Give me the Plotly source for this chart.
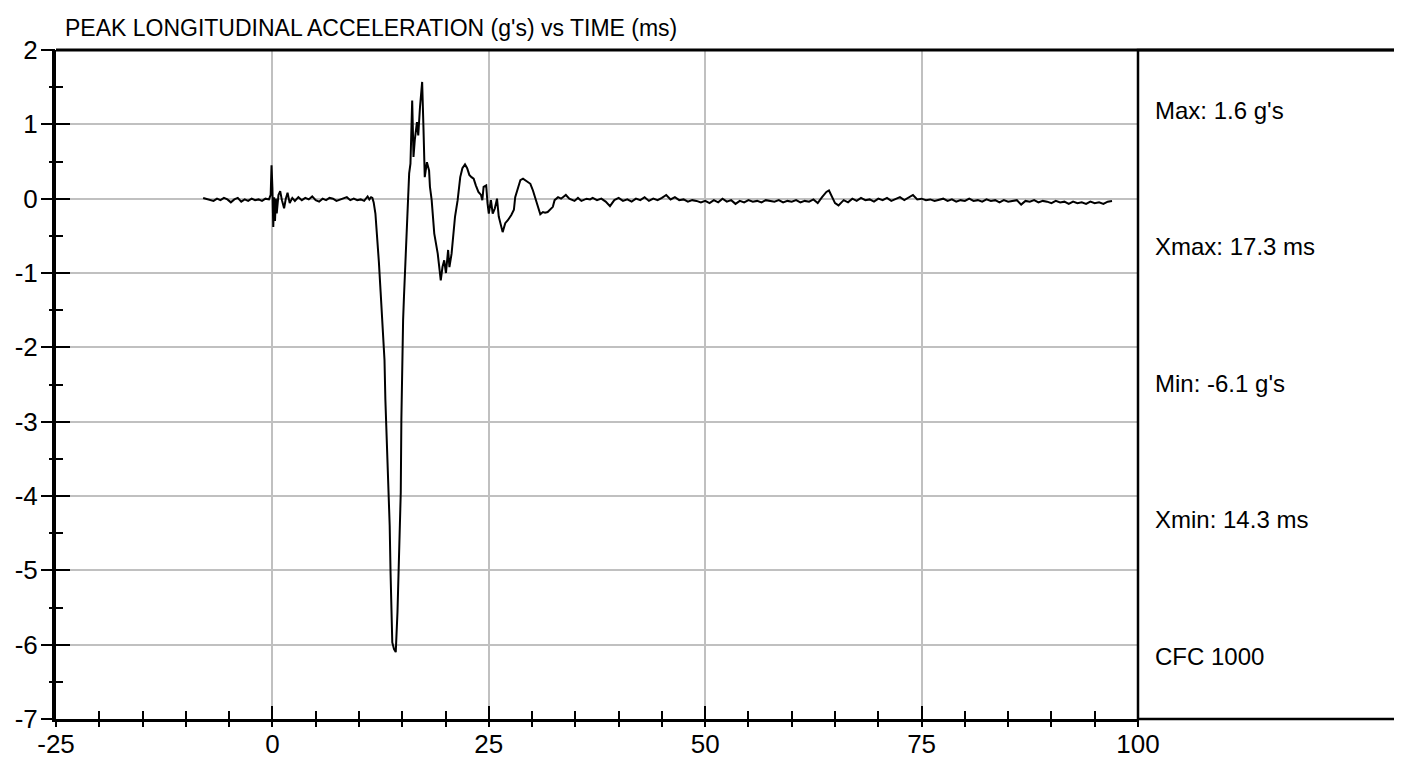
import plotly.graph_objects as go

# ---------------- data ----------------
title_text = "PEAK LONGITUDINAL ACCELERATION (g's) vs TIME (ms)"

x_ticks = [-25, 0, 25, 50, 75, 100]
x_tick_labels = ["-25", "0", "25", "50", "75", "100"]
y_ticks = [-7, -6, -5, -4, -3, -2, -1, 0, 1, 2]
y_tick_labels = ["-7", "-6", "-5", "-4", "-3", "-2", "-1", "0", "1", "2"]

stats_labels = ["Max: 1.6 g's", "Xmax: 17.3 ms", "Min: -6.1 g's", "Xmin: 14.3 ms", "CFC 1000"]

# pre-impact baseline
pre_t = [-8.0, -7.6, -7.2, -6.8, -6.4, -6.0, -5.6, -5.2, -4.8, -4.4, -4.0, -3.6, -3.2, -2.8,
         -2.4, -2.0, -1.6, -1.2, -0.8, -0.4]
pre_g = [0.01, 0.0, -0.01, -0.03, 0.0, -0.02, 0.01, -0.01, -0.05, -0.01, 0.01, -0.04, -0.01, -0.03,
         0.0, -0.02, -0.01, -0.03, 0.0, -0.01]

# trigger spike near t=0
spike_t = [-0.2, -0.1, 0.0, 0.1, 0.2, 0.3, 0.4, 0.5, 0.7, 0.9, 1.1, 1.35, 1.55, 1.75, 2.0, 2.3]
spike_g = [0.05, 0.45, 0.15, -0.38, 0.02, -0.3, 0.0, -0.2, 0.05, 0.1, -0.02, -0.13, 0.0, 0.08, -0.06, 0.01]

# quiet segment before impact
quiet_t = [2.6, 3.0, 3.4, 3.8, 4.2, 4.6, 5.0, 5.4, 5.8, 6.2, 6.6, 7.0, 7.4, 7.8, 8.2, 8.6, 9.0,
           9.4, 9.8, 10.2, 10.6, 11.0, 11.2, 11.4]
quiet_g = [-0.03, 0.02, -0.02, 0.01, -0.01, 0.03, -0.02, -0.04, 0.0, -0.02, 0.01, 0.0, -0.03, -0.01,
           0.01, 0.02, -0.02, 0.0, -0.02, -0.01, -0.03, 0.03, -0.01, 0.02]

# impact pulse
impact_t = [11.55, 11.7, 11.9, 12.1, 12.3, 12.5, 12.7, 12.85, 12.95, 13.05, 13.15, 13.3, 13.4, 13.55,
            13.65, 13.75, 13.85, 14.05, 14.25, 14.45, 14.65, 14.83, 14.9, 15.0, 15.1, 15.2, 15.3,
            15.4, 15.6, 15.8, 15.95, 16.15, 16.3, 16.45, 16.7, 16.85, 17.05, 17.3, 17.45, 17.5, 17.6,
            17.85, 18.1, 18.2, 18.4, 18.7, 19.1, 19.45, 19.65, 19.85, 20.05, 20.3, 20.45, 20.7, 20.85,
            21.1, 21.4, 21.7, 21.95, 22.25, 22.5, 22.75, 23.0, 23.25, 23.5, 23.8, 24.1, 24.25, 24.4,
            24.7, 24.85, 25.0, 25.25, 25.45, 25.7, 25.95, 26.15, 26.3, 26.6, 26.9, 27.2, 27.6, 27.9,
            28.05, 28.35, 28.65, 28.95, 29.2, 29.5, 29.8, 30.1, 30.35, 30.65, 30.95, 31.25, 31.5,
            31.8, 32.1, 32.4, 32.6, 33.0, 33.35, 33.9, 34.3, 34.9, 35.3, 35.7, 36.3, 36.7]
impact_g = [0.01, -0.05, -0.2, -0.48, -0.85, -1.25, -1.63, -1.99, -2.17, -2.7, -3.01, -3.42, -3.78, -4.4,
            -5.03, -5.43, -5.97, -6.06, -6.1, -5.56, -4.49, -3.95, -2.97, -1.99, -1.63, -1.32, -1.0,
            -0.69, -0.06, 0.34, 0.47, 1.32, 0.56, 0.79, 1.03, 0.85, 1.23, 1.57, 0.96, 0.52, 0.29,
            0.49, 0.38, 0.16, -0.02, -0.47, -0.74, -1.1, -0.92, -0.83, -1.0, -0.69, -0.92, -0.74, -0.51,
            -0.24, -0.02, 0.29, 0.41, 0.46, 0.41, 0.32, 0.29, 0.27, 0.18, 0.09, 0.05, -0.02, 0.16,
            0.18, -0.06, -0.2, -0.02, -0.2, -0.13, 0.0, -0.24, -0.31, -0.45, -0.33, -0.29, -0.22, -0.15,
            0.02, 0.14, 0.25, 0.27, 0.25, 0.23, 0.2, 0.11, 0.02, -0.11, -0.21, -0.18, -0.19,
            -0.18, -0.15, -0.11, -0.02, 0.02, 0.0, 0.05, 0.0, -0.03, 0.01, -0.03, 0.0, -0.01]

# post-impact baseline
post_t = [37.0, 37.5, 38.0, 38.5, 39.0, 39.5, 40.0, 40.5, 41.0, 41.5, 42.0, 42.5, 43.0, 43.5, 44.0,
          44.5, 45.0, 45.5, 46.0, 46.5, 47.0, 47.5, 48.0, 48.5, 49.0, 49.5, 50.0, 50.5, 51.0, 51.5,
          52.0, 52.5, 53.0, 53.5, 54.0, 54.5, 55.0, 55.5, 56.0, 56.5, 57.0, 57.5, 58.0, 58.5, 59.0,
          59.5, 60.0, 60.5, 61.0, 61.5, 62.0, 62.5, 63.0, 63.5, 64.0, 64.3, 64.6, 65.0, 65.4, 66.0,
          66.5, 67.0, 67.5, 68.0, 68.5, 69.0, 69.5, 70.0, 70.5, 71.0, 71.5, 72.0, 72.5, 73.0, 73.5,
          74.0, 74.5, 75.0, 75.5, 76.0, 76.5, 77.0, 77.5, 78.0, 78.5, 79.0, 79.5, 80.0, 80.5, 81.0,
          81.5, 82.0, 82.5, 83.0, 83.5, 84.0, 84.5, 85.0, 85.5, 86.0, 86.5, 87.0, 87.5, 88.0, 88.5,
          89.0, 89.5, 90.0, 90.5, 91.0, 91.5, 92.0, 92.5, 93.0, 93.5, 94.0, 94.5, 95.0, 95.5, 96.0,
          96.5, 97.0]
post_g = [0.01, -0.02, 0.0, -0.04, -0.1, -0.02, 0.01, -0.03, -0.01, -0.04, 0.0, -0.02, 0.02, -0.03, 0.0,
          -0.02, 0.01, 0.05, -0.01, 0.02, -0.02, -0.01, -0.04, -0.02, -0.03, -0.05, -0.03, -0.06, -0.02, -0.05,
          0.0, -0.04, -0.02, -0.07, -0.03, -0.05, -0.02, -0.04, -0.03, -0.05, -0.02, -0.03, -0.04, -0.02, -0.05,
          -0.03, -0.04, -0.02, -0.05, -0.03, -0.04, -0.01, -0.06, 0.02, 0.09, 0.11, 0.03, -0.06, -0.09, -0.02,
          -0.05, 0.0, -0.03, 0.01, -0.02, -0.01, -0.04, 0.0, -0.02, 0.01, -0.03, -0.01, 0.02, -0.02, 0.01,
          0.05, -0.01, 0.0, -0.02, -0.01, -0.03, -0.02, 0.0, -0.03, -0.01, -0.04, -0.02, -0.03, 0.0, -0.03,
          -0.02, -0.04, -0.01, -0.03, -0.02, -0.05, -0.02, -0.04, -0.03, -0.02, -0.08, -0.03, -0.04, -0.02, -0.05,
          -0.03, -0.04, -0.06, -0.03, -0.05, -0.04, -0.07, -0.04, -0.06, -0.05, -0.07, -0.04, -0.06, -0.05, -0.07,
          -0.04, -0.03]

time_ms = pre_t + spike_t + quiet_t + impact_t + post_t
accel_g = pre_g + spike_g + quiet_g + impact_g + post_g

# ---------------- figure ----------------
FONT = "Liberation Sans, Arial, sans-serif"
OFF = 8                      # default page body margin
W, H = 1402 - 2 * OFF, 769 - 2 * OFF
ML, MT = 56 - OFF, 50 - OFF
plot_w = 1138 - 56
plot_h = 719 - 50
MR = W - ML - plot_w
MB = H - MT - plot_h
panel_right = (1397 - 56) / plot_w

fig = go.Figure()
fig.add_trace(go.Scatter(x=time_ms, y=accel_g, mode="lines",
                         line=dict(color="black", width=2), hoverinfo="skip", showlegend=False))
fig.add_trace(go.Scatter(x=time_ms, y=accel_g, xaxis="x2", yaxis="y2", mode="lines",
                         line=dict(color="black", width=2), opacity=0,
                         showlegend=False, hoverinfo="skip"))

tickfont = dict(family=FONT, size=26, color="black")

fig.update_layout(
    width=W, height=H, autosize=False,
    margin=dict(l=ML, r=MR, t=MT, b=MB, pad=0, autoexpand=False),
    paper_bgcolor="white", plot_bgcolor="white",
    showlegend=False,
    # labelled axes carry the inner half of each crossing tick
    xaxis=dict(range=[-25, 100], tickmode="array", tickvals=x_ticks, ticktext=x_tick_labels,
               ticks="inside", ticklen=13, tickwidth=2, tickcolor="black",
               showline=True, linecolor="black", linewidth=3,
               showgrid=True, gridcolor="#c0c0c0", gridwidth=2, zeroline=False,
               minor=dict(tickmode="linear", tick0=0, dtick=5, ticks="inside", ticklen=8,
                          tickwidth=2, tickcolor="black", showgrid=False),
               tickfont=tickfont, fixedrange=True, automargin=False),
    yaxis=dict(range=[-7, 2], tickmode="array", tickvals=y_ticks, ticktext=y_tick_labels,
               ticks="inside", ticklen=14, tickwidth=2, tickcolor="black",
               showline=True, linecolor="black", linewidth=4,
               showgrid=True, gridcolor="#c0c0c0", gridwidth=2, zeroline=False,
               minor=dict(tickmode="linear", tick0=0, dtick=0.5, ticks="inside", ticklen=7,
                          tickwidth=2, tickcolor="black", showgrid=False),
               ticklabelstandoff=9,
               tickfont=tickfont, fixedrange=True, automargin=False),
    # overlay axes carry the outer half of each crossing tick
    xaxis2=dict(range=[-25, 100], overlaying="x", anchor="y2", side="bottom",
                tickmode="array", tickvals=x_ticks, ticks="outside", ticklen=5, tickwidth=2,
                tickcolor="black", showticklabels=False, showgrid=False, showline=False, zeroline=False,
                minor=dict(tickmode="linear", tick0=0, dtick=5, ticks="outside", ticklen=7,
                           tickwidth=2, tickcolor="black", showgrid=False),
                fixedrange=True, automargin=False),
    yaxis2=dict(range=[-7, 2], overlaying="y", anchor="x2", side="left",
                tickmode="array", tickvals=y_ticks, ticks="outside", ticklen=14, tickwidth=2,
                tickcolor="black", showticklabels=False, showgrid=False, showline=False, zeroline=False,
                minor=dict(tickmode="linear", tick0=0, dtick=0.5, ticks="outside", ticklen=6,
                           tickwidth=2, tickcolor="black", showgrid=False),
                fixedrange=True, automargin=False),
)

# top border across plot and panel, and stats panel box
fig.add_shape(type="line", xref="paper", yref="paper", x0=0, x1=panel_right, y0=1, y1=1,
              line=dict(color="black", width=3), layer="above")
fig.add_shape(type="rect", xref="paper", yref="paper", x0=1, x1=panel_right, y0=0, y1=1,
              line=dict(color="black", width=2.5), layer="above")

# title
fig.add_annotation(text=title_text, xref="paper", yref="paper",
                   x=(63 - 56) / plot_w, y=1 + (50 - 28) / plot_h,
                   xanchor="left", yanchor="middle", showarrow=False,
                   font=dict(family=FONT, size=23, color="black"))

# stats labels in panel
stats_y_px = [110, 246, 383, 520, 656]
for label, ypx in zip(stats_labels, stats_y_px):
    fig.add_annotation(text=label, xref="paper", yref="paper",
                       x=(1153 - 56) / plot_w, y=(719 - ypx) / plot_h,
                       xanchor="left", yanchor="middle", showarrow=False,
                       font=dict(family=FONT, size=24, color="black"))

fig.write_html("out.html")
